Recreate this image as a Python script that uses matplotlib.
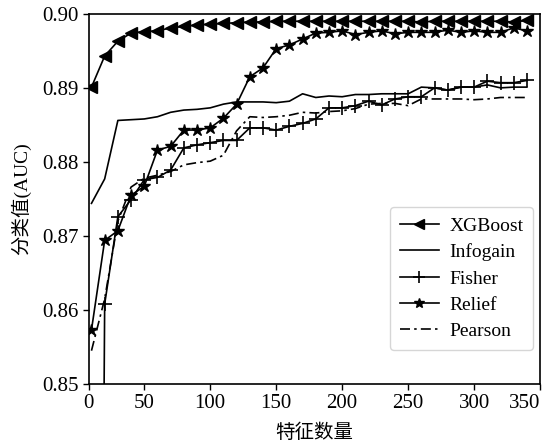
import matplotlib
matplotlib.use('Agg')
import matplotlib.pyplot as plt

plt.rcParams['font.family'] = ['Liberation Serif', 'Noto Sans CJK SC', 'DejaVu Sans']

# number of features
n_feat = [10, 20, 30, 40, 50, 60, 70, 80, 90, 100, 110, 120, 130, 140, 150, 160, 170,
          180, 190, 200, 210, 220, 230, 240, 250, 260, 270, 280, 290, 300, 310, 320, 330, 340]

xgboost = [0.8901, 0.8943, 0.8963, 0.8974, 0.8976, 0.8977, 0.8981, 0.8983, 0.8985, 0.8986,
           0.8987, 0.8988, 0.8989, 0.8989, 0.8990, 0.8990, 0.8990, 0.8990, 0.8990, 0.8990,
           0.8990, 0.8990, 0.8990, 0.8990, 0.8990, 0.8989, 0.8990, 0.8990, 0.8990, 0.8990,
           0.8990, 0.8990, 0.8989, 0.8991]
infogain = [0.8744, 0.8777, 0.8856, 0.8857, 0.8858, 0.8861, 0.8867, 0.8870, 0.8871, 0.8873,
            0.8878, 0.8881, 0.8881, 0.8881, 0.8880, 0.8882, 0.8892, 0.8887, 0.8889, 0.8888,
            0.8891, 0.8891, 0.8892, 0.8892, 0.8892, 0.8901, 0.8900, 0.8897, 0.8901, 0.8901,
            0.8904, 0.8900, 0.8901, 0.8901]
fisher = [0.6000, 0.8608, 0.8726, 0.8749, 0.8776, 0.8779, 0.8789, 0.8819, 0.8823, 0.8826,
          0.8829, 0.8829, 0.8846, 0.8846, 0.8843, 0.8848, 0.8852, 0.8858, 0.8873, 0.8873,
          0.8876, 0.8882, 0.8877, 0.8885, 0.8888, 0.8888, 0.8900, 0.8897, 0.8901, 0.8901,
          0.8909, 0.8907, 0.8907, 0.8910]
relief = [0.8573, 0.8694, 0.8707, 0.8755, 0.8767, 0.8816, 0.8821, 0.8843, 0.8843, 0.8846,
          0.8859, 0.8878, 0.8915, 0.8927, 0.8953, 0.8958, 0.8966, 0.8974, 0.8975, 0.8977,
          0.8972, 0.8975, 0.8977, 0.8973, 0.8975, 0.8975, 0.8975, 0.8978, 0.8975, 0.8977,
          0.8975, 0.8975, 0.8981, 0.8977]
pearson = [0.8545, 0.8615, 0.8720, 0.8766, 0.8778, 0.8782, 0.8787, 0.8796, 0.8799, 0.8801,
           0.8809, 0.8842, 0.8861, 0.8860, 0.8861, 0.8863, 0.8867, 0.8866, 0.8868, 0.8869,
           0.8872, 0.8878, 0.8879, 0.8879, 0.8876, 0.8885, 0.8885, 0.8885, 0.8885, 0.8884,
           0.8885, 0.8887, 0.8887, 0.8887]

tick_pos = [8, 50, 100, 150, 200, 250, 300, 350]
tick_lab = ['0', '50', '100', '150', '200', '250', '300', '350']
ytick_pos = [0.85, 0.86, 0.87, 0.88, 0.89, 0.90]
ytick_lab = ['0.85', '0.86', '0.87', '0.88', '0.89', '0.90']

fig = plt.figure(figsize=(5.45, 4.46), dpi=100)
ax = fig.add_axes([0.163, 0.139, 0.828, 0.830])

lw = 1.2
ax.plot(n_feat, xgboost, color='black', lw=lw, marker='<', ms=9, label='XGBoost')
ax.plot(n_feat, infogain, color='black', lw=lw, label='Infogain')
ax.plot(n_feat, fisher, color='black', lw=lw, marker='+', ms=10, mew=1.2, label='Fisher')
ax.plot(n_feat, relief, color='black', lw=lw, marker='*', ms=9, label='Relief')
ax.plot(n_feat, pearson, color='black', lw=lw, ls=(0, (6, 2.5, 1.5, 2.5)), label='Pearson')

ax.set_xlim(8, 350)
ax.set_ylim(0.85, 0.90)
ax.set_xticks(tick_pos)
ax.set_xticklabels(tick_lab)
ax.set_yticks(ytick_pos)
ax.set_yticklabels(ytick_lab)
ax.tick_params(labelsize=15, colors='black', width=1, length=4, pad=3)
ax.get_xticklabels()[-1].set_horizontalalignment('right')
ax.get_xticklabels()[-1].set_x(351)
for s in ax.spines.values():
    s.set_linewidth(1.2)

ax.set_xlabel('特征数量', fontsize=14, labelpad=8)
ax.set_ylabel('分类值(AUC)', fontsize=14, labelpad=8)

ax.legend(loc='lower right', bbox_to_anchor=(0.985, 0.092), borderaxespad=0, fontsize=14,
          handlelength=2.0, handletextpad=0.55, labelspacing=0.45, borderpad=0.5,
          markerscale=0.8)

fig.savefig('out.png', dpi=100)
